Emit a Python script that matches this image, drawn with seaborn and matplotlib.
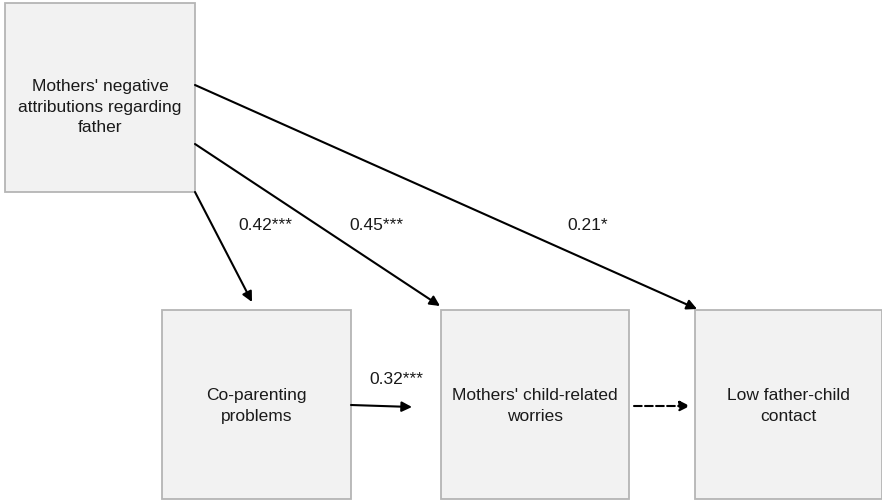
import matplotlib
matplotlib.use("Agg")
import matplotlib.pyplot as plt
import seaborn as sns
from matplotlib.patches import Rectangle, FancyArrowPatch

# variables in the path model
box_labels = ["Mothers' negative\nattributions regarding\nfather",
              "Co-parenting\nproblems",
              "Mothers' child-related\nworries",
              "Low father-child\ncontact"]

# path coefficients (from -> to, label)
path_from = [0, 0, 0, 1, 2]
path_to = [1, 2, 3, 2, 3]
path_labels = ["0.42***", "0.45***", "0.21*", "0.32***", ""]
path_dashed = [False, False, False, False, True]

sns.set_theme(style="white")
plt.rcParams['font.family'] = ['Liberation Sans', 'DejaVu Sans']

fig = plt.figure(figsize=(8.82, 5.01), dpi=100)
ax = fig.add_axes([0, 0, 1, 1])
ax.set_xlim(0, 882)
ax.set_ylim(501, 0)
ax.axis('off')

# box layout (pixels): x0, y0, x1, y1, text centre y
boxes = [(5, 3, 195, 192, 107), (162, 310, 351, 499, 406),
         (441, 310, 629, 499, 406), (695, 310, 882, 499, 406)]
for (x0, y0, x1, y1, ty), lab in zip(boxes, box_labels):
    ax.add_patch(Rectangle((x0, y0), x1 - x0, y1 - y0, facecolor='#f2f2f2',
                           edgecolor='#b5b5b5', lw=1.3))
    ax.text((x0 + x1) / 2, ty, lab, ha='center', va='center',
            fontsize=12.5, color='#1a1a1a', linespacing=1.45)

# arrow geometry (start, end) and label spots
starts = [(195, 192), (195, 144), (195, 85), (351, 405), (634, 406)]
ends = [(252, 302), (440, 306), (697, 309), (412, 407), (690, 406)]
label_pos = [(265, 226), (376, 226), (588, 226), (396, 380), None]

for i in range(len(path_from)):
    arr = FancyArrowPatch(starts[i], ends[i], arrowstyle='-|>', mutation_scale=15,
                          color='black', lw=1.5, shrinkA=0, shrinkB=0,
                          linestyle='--' if path_dashed[i] else '-')
    ax.add_patch(arr)
    if label_pos[i] is not None and path_labels[i]:
        ax.text(label_pos[i][0], label_pos[i][1], path_labels[i], ha='center',
                va='center', fontsize=12.5, color='#1a1a1a')

fig.savefig('out.png', dpi=100)
